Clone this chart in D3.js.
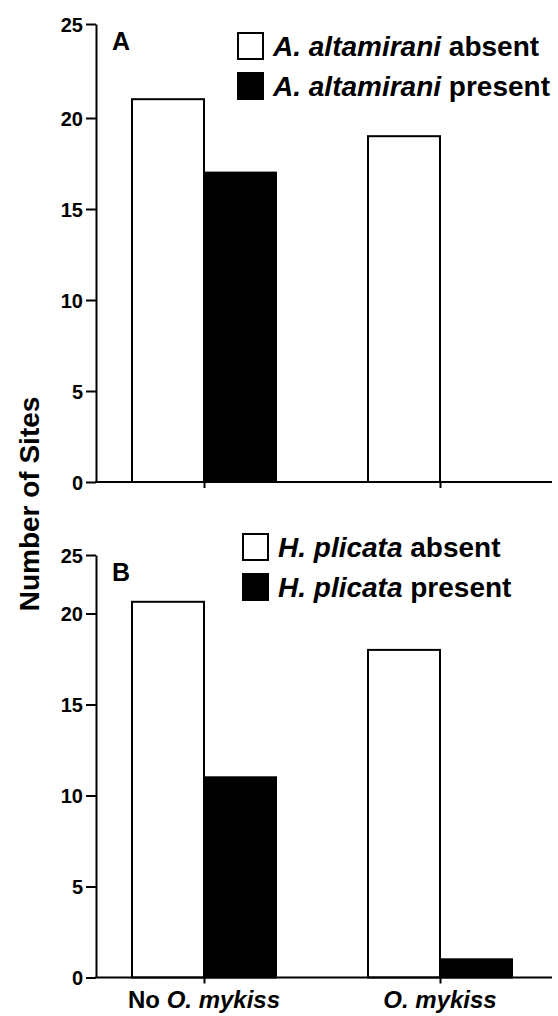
<!DOCTYPE html>
<html><head><meta charset="utf-8">
<script src="https://cdn.jsdelivr.net/npm/d3@7"></script>
<style>body{margin:0;background:#fff}svg{display:block}text{font-family:"Liberation Sans",Arial,sans-serif;font-weight:bold;fill:#000}</style>
</head><body>
<script>
const categories = ["No O. mykiss", "O. mykiss"];
const seriesKeys = ["absent", "present"];
const panelALabels = ["A. altamirani", "A. altamirani"];
const panelBLabels = ["H. plicata", "H. plicata"];
const panelAValues = [[21, 17], [19, 0]];
const panelBValues = [[21, 11], [18, 1]];
const yTicks = [0, 5, 10, 15, 20, 25];
const fills = ["#fff", "#000"];

const W = 558, H = 1016;
const svg = d3.select("body").append("svg").attr("width", W).attr("height", H);

const xC = d3.scalePoint().domain(categories).range([204, 440]);
const xS = d3.scaleBand().domain(seriesKeys).range([-72, 72]);

function panel(letter, values, names, yRange, legendPos) {
  const y = d3.scaleLinear().domain([0, 20, 25]).range(yRange);
  const g = svg.append("g");
  categories.forEach((c, ci) => {
    seriesKeys.forEach((s, si) => {
      const v = values[ci][si];
      if (v <= 0) return;
      g.append("rect")
        .attr("x", xC(c) + xS(s))
        .attr("y", y(v))
        .attr("width", xS.bandwidth())
        .attr("height", y(0) - y(v))
        .attr("fill", fills[si]).attr("stroke", "#000").attr("stroke-width", 2);
    });
  });
  const ya = g.append("g").attr("transform", "translate(96,0)")
    .call(d3.axisLeft(y).tickValues(yTicks).tickSize(10).tickSizeOuter(0).tickPadding(3));
  ya.attr("font-family", null).attr("font-size", null);
  ya.select(".domain").attr("stroke-width", 2);
  ya.selectAll(".tick line").attr("stroke-width", 2);
  ya.selectAll(".tick text")
    .style("font-size", "20px").style("font-weight", "bold")
    .style("font-family", '"Liberation Sans",Arial,sans-serif').attr("fill", "#000").attr("dy", "0.36em");
  const xa = g.append("g").attr("transform", `translate(0,${y(0)})`)
    .call(d3.axisBottom(xC).tickSize(6).tickSizeOuter(0).tickFormat(""));
  xa.select(".domain").remove();
  xa.selectAll(".tick line").attr("stroke-width", 2);
  g.append("line").attr("x1", 95).attr("x2", 552).attr("y1", y(0)).attr("y2", y(0))
    .attr("stroke", "#000").attr("stroke-width", 2);
  g.append("text").attr("x", 112).attr("y", y(25) + 26).style("font-size", "25px").text(letter);
  seriesKeys.forEach((s, si) => {
    const ly = legendPos.y + si * 40;
    g.append("rect").attr("x", legendPos.x).attr("y", ly).attr("width", 25).attr("height", 26)
      .attr("fill", fills[si]).attr("stroke", "#000").attr("stroke-width", 2);
    const t = g.append("text").attr("x", legendPos.x + 35).attr("y", ly + 23).style("font-size", legendPos.fs + "px");
    t.append("tspan").style("font-style", "italic").text(names[si]);
    t.append("tspan").text(" " + s);
  });
  return y;
}

const yA = panel("A", panelAValues, panelALabels, [482, 118, 24], {x: 238, y: 33, fs: 28});
const yB = panel("B", panelBValues, panelBLabels, [977.5, 613.5, 555], {x: 243, y: 534, fs: 28});

categories.forEach(c => {
  const t = svg.append("text").attr("x", xC(c)).attr("y", 1008).attr("text-anchor", "middle").style("font-size", "24px");
  if (c.startsWith("No ")) {
    t.append("tspan").text("No ");
    t.append("tspan").style("font-style", "italic").text(c.slice(3));
  } else {
    t.append("tspan").style("font-style", "italic").text(c);
  }
});

svg.append("text").attr("transform", "translate(39,504) rotate(-90)").attr("text-anchor", "middle")
  .style("font-size", "28px").text("Number of Sites");
</script>
</body></html>
